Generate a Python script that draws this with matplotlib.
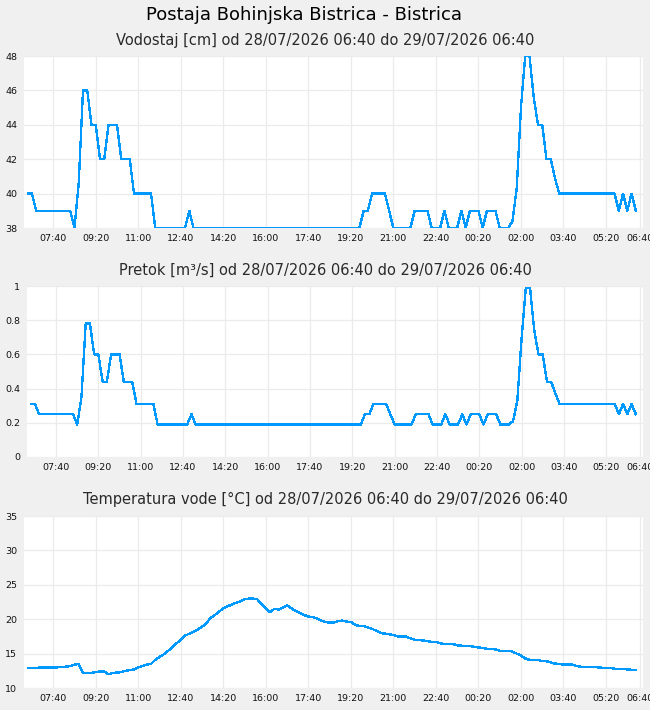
import matplotlib
matplotlib.use("Agg")
import matplotlib.pyplot as plt
import pandas as pd

title = "Postaja Bohinjska Bistrica - Bistrica"
subtitles = [
    "Vodostaj [cm] od 28/07/2026 06:40 do 29/07/2026 06:40",
    "Pretok [m³/s] od 28/07/2026 06:40 do 29/07/2026 06:40",
    "Temperatura vode [°C] od 28/07/2026 06:40 do 29/07/2026 06:40",
]

# 10-minute samples from 28/07/2026 06:40
times = pd.date_range("2026-07-28 06:40", periods=144, freq="10min")

vodostaj = [
    40, 40, 39, 39, 39, 39, 39, 39, 39, 39, 39, 38,
    40.6, 46, 46, 44, 44, 42, 42, 44, 44, 44, 42, 42,
    42, 40, 40, 40, 40, 40, 38, 38, 38, 38, 38, 38,
    38, 38, 39, 38, 38, 38, 38, 38, 38, 38, 38, 38,
    38, 38, 38, 38, 38, 38, 38, 38, 38, 38, 38, 38,
    38, 38, 38, 38, 38, 38, 38, 38, 38, 38, 38, 38,
    38, 38, 38, 38, 38, 38, 38, 39, 39, 40, 40, 40,
    40, 39, 38, 38, 38, 38, 38, 39, 39, 39, 39, 38,
    38, 38, 39, 38, 38, 38, 39, 38, 39, 39, 39, 38,
    39, 39, 39, 38, 38, 38, 38.4, 40.3, 45, 48, 48, 45.6,
    44, 44, 42, 42, 40.9, 40, 40, 40, 40, 40, 40, 40,
    40, 40, 40, 40, 40, 40, 40, 39, 40, 39, 40, 39,
]

pretok = [
    0.31, 0.31, 0.25, 0.25, 0.25, 0.25, 0.25, 0.25, 0.25, 0.25, 0.25, 0.19,
    0.35, 0.78, 0.78, 0.60, 0.60, 0.44, 0.44, 0.60, 0.60, 0.60, 0.44, 0.44,
    0.44, 0.31, 0.31, 0.31, 0.31, 0.31, 0.19, 0.19, 0.19, 0.19, 0.19, 0.19,
    0.19, 0.19, 0.25, 0.19, 0.19, 0.19, 0.19, 0.19, 0.19, 0.19, 0.19, 0.19,
    0.19, 0.19, 0.19, 0.19, 0.19, 0.19, 0.19, 0.19, 0.19, 0.19, 0.19, 0.19,
    0.19, 0.19, 0.19, 0.19, 0.19, 0.19, 0.19, 0.19, 0.19, 0.19, 0.19, 0.19,
    0.19, 0.19, 0.19, 0.19, 0.19, 0.19, 0.19, 0.25, 0.25, 0.31, 0.31, 0.31,
    0.31, 0.25, 0.19, 0.19, 0.19, 0.19, 0.19, 0.25, 0.25, 0.25, 0.25, 0.19,
    0.19, 0.19, 0.25, 0.19, 0.19, 0.19, 0.25, 0.19, 0.25, 0.25, 0.25, 0.19,
    0.25, 0.25, 0.25, 0.19, 0.19, 0.19, 0.21, 0.33, 0.69, 0.99, 0.99, 0.74,
    0.60, 0.60, 0.44, 0.44, 0.37, 0.31, 0.31, 0.31, 0.31, 0.31, 0.31, 0.31,
    0.31, 0.31, 0.31, 0.31, 0.31, 0.31, 0.31, 0.25, 0.31, 0.25, 0.31, 0.25,
]

temperatura = [
    12.9, 12.9, 12.9, 13.0, 13.0, 13.0, 13.0, 13.0, 13.1, 13.1, 13.2, 13.4,
    13.5, 12.2, 12.2, 12.2, 12.3, 12.4, 12.4, 12.0, 12.2, 12.25, 12.3, 12.5,
    12.6, 12.7, 13.0, 13.2, 13.4, 13.5, 14.1, 14.5, 14.9, 15.4, 15.9, 16.5,
    17.0, 17.6, 17.9, 18.2, 18.5, 18.9, 19.4, 20.2, 20.6, 21.1, 21.6, 21.9,
    22.1, 22.4, 22.6, 22.9, 23.0, 23.0, 22.9, 22.2, 21.6, 21.0, 21.5, 21.4,
    21.7, 22.0, 21.6, 21.2, 20.9, 20.6, 20.4, 20.3, 20.1, 19.8, 19.6, 19.5,
    19.5, 19.7, 19.8, 19.65, 19.6, 19.2, 19.0, 19.0, 18.8, 18.6, 18.3, 18.0,
    17.9, 17.8, 17.7, 17.5, 17.5, 17.5, 17.2, 17.0, 17.0, 16.9, 16.8, 16.7,
    16.7, 16.5, 16.4, 16.4, 16.4, 16.2, 16.15, 16.15, 16.1, 16.0, 15.9, 15.8,
    15.7, 15.7, 15.6, 15.4, 15.4, 15.4, 15.3, 15.0, 14.7, 14.3, 14.1, 14.1,
    14.1, 13.9, 13.9, 13.7, 13.55, 13.5, 13.4, 13.4, 13.4, 13.2, 13.1, 13.1,
    13.1, 13.1, 13.0, 12.95, 12.95, 12.9, 12.8, 12.8, 12.8, 12.7, 12.65, 12.65,
]

xtick_labels = ["07:40", "09:20", "11:00", "12:40", "14:20", "16:00", "17:40",
                "19:20", "21:00", "22:40", "00:20", "02:00", "03:40", "05:20", "06:40"]
xtick_times = pd.to_datetime([
    "2026-07-28 07:40", "2026-07-28 09:20", "2026-07-28 11:00", "2026-07-28 12:40",
    "2026-07-28 14:20", "2026-07-28 16:00", "2026-07-28 17:40", "2026-07-28 19:20",
    "2026-07-28 21:00", "2026-07-28 22:40", "2026-07-29 00:20", "2026-07-29 02:00",
    "2026-07-29 03:40", "2026-07-29 05:20", "2026-07-29 06:40",
])

y_ticks = [
    [38, 40, 42, 44, 46, 48],
    [0, 0.2, 0.4, 0.6, 0.8, 1],
    [10, 15, 20, 25, 30, 35],
]
y_ticklabels = [
    ["38", "40", "42", "44", "46", "48"],
    ["0", "0.2", "0.4", "0.6", "0.8", "1"],
    ["10", "15", "20", "25", "30", "35"],
]
series = [vodostaj, pretok, temperatura]

W, H = 650, 710
BG = "#f0f0f0"
LINE = "#0099ff"
GRID = "#ebebeb"

fig = plt.figure(figsize=(W / 100, H / 100), dpi=100, facecolor=BG)

# pixel boxes: left, right, top, bottom
boxes = [(24, 643, 56, 228), (27, 643, 286, 457), (24, 643, 516, 688)]
sub_y = [40, 270, 499]

x_start = pd.Timestamp("2026-07-28 06:40") - pd.Timedelta(minutes=8.7)
x_end = pd.Timestamp("2026-07-29 06:40") + pd.Timedelta(minutes=7)

for k, (l, r, t, b) in enumerate(boxes):
    ax = fig.add_axes([l / W, 1 - b / H, (r - l) / W, (b - t) / H])
    ax.set_facecolor("white")
    for s in ax.spines.values():
        s.set_visible(False)
    ax.plot(times, series[k], color=LINE, lw=0.95, antialiased=False, zorder=3)
    ax.set_xlim(x_start, x_end)
    ax.set_ylim(y_ticks[k][0], y_ticks[k][-1])
    ax.set_xticks(xtick_times)
    ax.set_xticklabels(xtick_labels)
    ax.set_yticks(y_ticks[k])
    ax.set_yticklabels(y_ticklabels[k])
    ax.tick_params(axis="both", length=0, labelsize=6.8, colors="#111111")
    ax.tick_params(axis="x", pad=4.5)
    ax.tick_params(axis="y", pad=4.8)
    ax.grid(True, color=GRID, lw=0.9, zorder=0)
    ax.set_axisbelow(True)
    fig.text(0.5, 1 - sub_y[k] / H, subtitles[k], ha="center", va="center",
             fontsize=10.5, color="#2a2a2a")

fig.text(304 / W, 1 - 15 / H, title, ha="center", va="center", fontsize=13, color="black")

fig.savefig("out.png", dpi=100, facecolor=BG)
